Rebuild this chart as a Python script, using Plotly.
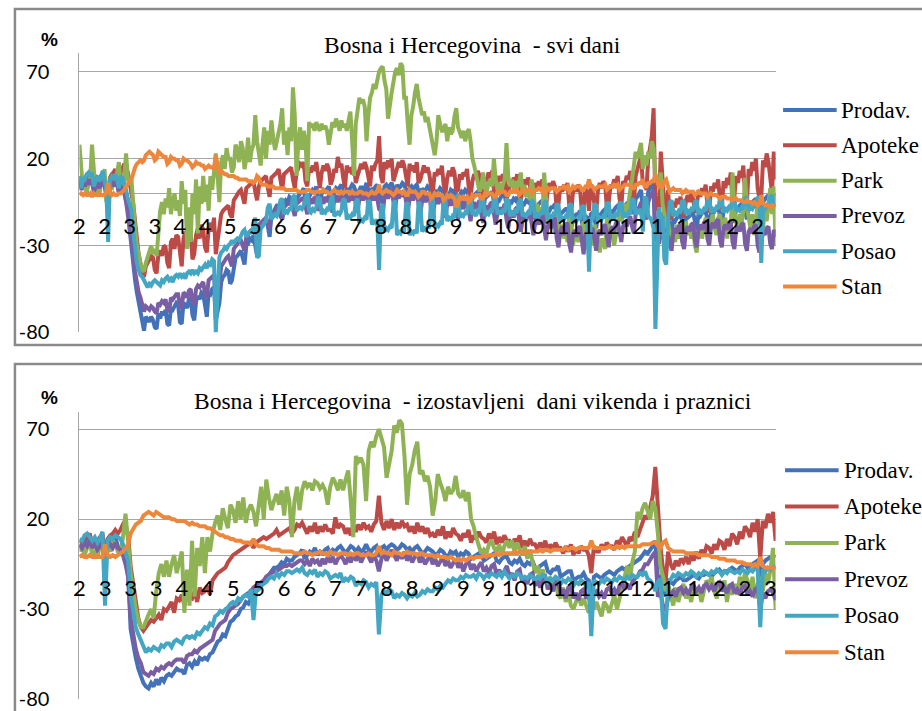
import datetime as dt
import plotly.graph_objects as go

# ---------------- data (daily, from 2020-02-15; rows = weeks Sat..Fri) ----------------
START_DATE = "2020-02-15"
SERIES = ["Prodav.", "Apoteke", "Park", "Prevoz", "Posao", "Stan"]
COLORS = ["#4472B8", "#BC4A46", "#8FB354", "#7A5EA3", "#43A6C3", "#EE873B"]

PRODAV = [
    8, 3, 6, 4, 7, 9, 10,
    10, 2, 5, 7, 3, 6, 9,
    6, 0, -2, 4, 7, 8, 10,
    7, 1, 5, 3, 1, -4, -9,
    -21, -32, -41, -50, -57, -63, -67,
    -75, -79, -71, -73, -74, -71, -73,
    -77, -78, -69, -72, -68, -70, -67,
    -75, -76, -66, -67, -65, -63, -64,
    -74, -75, -63, -64, -66, -61, -60,
    -70, -73, -62, -59, -61, -57, -58,
    -67, -71, -57, -58, -55, -54, -73,
    -67, -63, -51, -48, -47, -44, -45,
    -52, -50, -41, -37, -36, -34, -33,
    -37, -41, -30, -29, -26, -27, -24,
    -31, -36, -21, -20, -19, -16, -15,
    -19, -25, -12, -11, -9, -7, -7,
    -13, -15, -6, -4, -5, -2, -3,
    -9, -11, -3, -1, 0, 1, 3,
    -5, -9, -2, 0, 2, 1, 4,
    -4, -10, 0, 2, 1, 3, 4,
    -2, -7, 1, 3, 2, 4, 5,
    0, -6, 3, 1, 3, 5, 4,
    1, -5, 2, 4, 2, 3, 6,
    2, -3, 3, 2, 4, 5, -1,
    -4, -6, 4, 5, 3, 5, 6,
    3, -4, 5, 3, 4, 6, 5,
    2, -5, 3, 4, 2, 4, 5,
    1, -6, 3, 1, 2, 4, 3,
    0, -7, 2, 0, 1, 3, 2,
    -1, -8, 0, -1, 2, 1, 2,
    -3, -9, -1, 1, 0, 2, 1,
    -2, -10, -2, -1, 0, 1, 0,
    -4, -10, -3, -2, -1, 0, 1,
    -5, -12, -3, -4, -2, -1, -1,
    -6, -12, -4, -5, -3, -4, -2,
    -8, -14, -5, -6, -4, -5, -3,
    -9, -15, -7, -8, -6, -5, -4,
    -11, -17, -9, -10, -8, -8, -6,
    -13, -19, -12, -11, -10, -9, -9,
    -15, -21, -14, -13, -12, -12, -10,
    -16, -22, -13, -14, -26, -12, -11,
    -14, -20, -12, -13, -11, -10, -9,
    -12, -18, -10, -11, -9, -8, -7,
    -10, -16, -8, -7, -6, -5, -4,
    -6, -12, -3, -2, 0, 2, -9,
    -4, -11, 1, 3, 5, 8, -28,
    -14, -21, -13, -12, -15, -23, -14,
    -18, -23, -15, -16, -14, -13, -12,
    -17, -22, -14, -14, -13, -12, -11,
    -16, -21, -12, -13, -11, -11, -10,
    -15, -20, -11, -12, -10, -9, -8,
    -13, -18, -10, -9, -9, -8, -7,
    -12, -17, -8, -9, -7, -6, -5,
    -10, -15, -7, -6, -5, -4, -3,
    -9, -13, -16, -5, -3, -2, -1,
    -6, -11, -1, 0,
]

APOTEKE = [
    10, 4, 8, 7, 9, 10, 12,
    11, 3, 6, 9, 8, 10, 12,
    8, 2, 0, 9, 11, 12, 14,
    10, 4, 12, 14, 17, 15, 12,
    6, 1, -6, -16, -27, -35, -40,
    -45, -48, -42, -40, -38, -36, -37,
    -44, -46, -35, -33, -36, -30, -31,
    -40, -43, -28, -26, -32, -24, -25,
    -36, -42, -26, -22, -28, -21, -23,
    -38, -35, -24, -20, -26, -18, -21,
    -31, -34, -20, -17, -22, -14, -35,
    -28, -22, -12, -10, -9, -8, -7,
    -12, -14, -4, -2, 0, 1, 2,
    -3, -6, 3, 4, 5, 6, 7,
    1, -4, 4, 7, 8, 9, 10,
    3, -2, 9, 10, 11, 12, 14,
    6, 2, 11, 12, 13, 14, 15,
    8, 3, 12, 14, 17, 16, 18,
    7, 4, 15, 12, 16, 13, 18,
    9, 3, 12, 16, 13, 17, 14,
    5, 8, 14, 12, 21, 15, 17,
    9, 3, 16, 12, 15, 11, 17,
    6, 10, 13, 17, 14, 18, 15,
    8, 4, 16, 13, 17, 19, 33,
    10, 6, 18, 14, 19, 15, 20,
    7, 11, 14, 18, 15, 19, 16,
    9, 4, 17, 13, 16, 12, 18,
    6, 8, 13, 16, 12, 15, 11,
    4, 1, 12, 10, 14, 11, 16,
    5, 0, 9, 13, 10, 15, 12,
    1, 2, 11, 8, 12, 10, 14,
    3, -2, 7, 11, 9, 13, 10,
    -1, 1, 9, 7, 12, 9, 13,
    2, -3, 6, 10, 7, 11, 8,
    -3, 0, 8, 5, 9, 7, 11,
    -1, -5, 4, 8, 5, 9, 6,
    -5, -2, 6, 3, 7, 4, 8,
    -3, -8, 2, 6, 3, 7, 4,
    -9, -6, 4, 1, 5, 2, 6,
    -7, -12, 0, 4, 1, 5, 3,
    -11, -8, 3, 0, -10, 5, 2,
    -6, -11, 2, 6, 3, 7, 5,
    -9, -5, 5, 3, 8, 6, 10,
    -3, -8, 7, 5, 10, 8, 13,
    0, -5, 10, 14, 18, 22, 5,
    6, 2, 20, 26, 33, 49, -10,
    -2, -8, 24, 5, -8, -15, 2,
    -12, -15, -5, -8, -3, -6, -2,
    -10, -14, -4, -1, -5, 0, -3,
    -11, -8, 2, -2, 3, 0, 5,
    -7, -11, 4, 1, 6, 3, 8,
    -4, -9, 7, 3, 9, 5, 12,
    -6, -2, 10, 6, 13, 9, 16,
    -1, -5, 14, 10, 18, 13, 20,
    3, -3, -2, 19, 15, 23, 18,
    6, 0, 24, 8,
]

PARK = [
    28, 12, 2, 6, 0, 5, 8,
    28, 10, 0, 3, -2, 6, 4,
    14, -5, -3, 5, 2, 8, 6,
    12, 18, 2, 0, 10, 23, 8,
    5, 8, -10, -20, -30, -36, -40,
    -44, -45, -40, -36, -33, -30, -35,
    -32, -36, -20, -10, -5, -12, -3,
    -8, 3, -12, -5, 0, -10, -4,
    -13, 7, -6, 2, -32, -8, -28,
    0, -12, 8, -23, 4, -6, 10,
    -5, 5, -10, 10, 2, 12, 23,
    10, -5, 18, 22, 14, 26, 20,
    20, 12, 15, 28, 25, 18, 30,
    26, 14, 20, 32, 18, 25, 28,
    45, 30, 24, 16, 28, 38, 20,
    36, 28, 42, 32, 25, 30, 34,
    40, 49, 28, 36, 22, 38, 30,
    61, 45, 10, 30, 38, 25, 36,
    30, 7, 41, 38, 40, 36, 41,
    38, 36, 40, 37, 39, 36, 28,
    34, 41, 38, 43, 40, 36, 42,
    38, 40, 36, 42, 47, 30, 10,
    40, 48, 55, 52, 54, 50, 30,
    45, 55, 58, 63, 60, 66, 70,
    72, 73, 65, 60, 43, 52, 58,
    64, 70, 72, 68, 75, 73, 55,
    55, 40, 28, 45, 50, 58, 63,
    55, 49, 45, 47, 41, 44, 38,
    34, 28, 22, 30, 45, 40, 36,
    36, 40, 30, 38, 34, 36, 44,
    49, 38, 34, 32, 36, 30, 35,
    37, 30, 20, 16, 10, 6, 1,
    4, 12, 3, 1, 6, 8, 4,
    20, 8, 2, 6, 0, 5, 8,
    29, 10, 4, 8, 2, 7, 3,
    6, 12, 0, 5, -2, 3, -4,
    8, 2, -10, -6, -12, -8, -14,
    12, -2, -16, -12, -20, -15, -22,
    -8, -14, -24, -18, -26, -20, -28,
    -12, -18, -30, -25, -22, -28, -24,
    -20, -16, -28, -32, -22, -30, -26,
    -18, -24, -30, -34, -26, -28, -32,
    -14, -20, -26, -22, -30, -24, -18,
    -10, -16, -12, -6, -14, -4, 2,
    8, 18, 24, 20, 26, 29, 14,
    22, 16, 24, 20, 30, 26, 10,
    8, 4, 12, -6, -12, -20, -16,
    -24, -30, -22, -28, -18, -26, -20,
    -28, -22, -16, -24, -20, -26, -18,
    -30, -34, -22, -18, -26, -20, -14,
    -20, -26, -16, -12, -20, -24, -14,
    -12, -18, -20, -14, -26, -16, -22,
    12, -10, -16, -22, -12, -18, -10,
    9, -8, -14, -20, -12, -24, -16,
    -6, -18, -12, -20, -10, -16, -8,
    3, -12, 4, -30,
]

PREVOZ = [
    5, 2, 6, 4, 7, 5, 8,
    6, 1, 4, 6, 3, 5, 7,
    4, -1, 0, 5, 6, 4, 7,
    5, 0, 4, 3, 0, -5, -12,
    -20, -26, -35, -45, -52, -57, -60,
    -64, -68, -65, -66, -67, -65, -66,
    -68, -69, -63, -64, -62, -63, -61,
    -67, -68, -60, -61, -59, -58, -58,
    -65, -66, -57, -58, -60, -56, -55,
    -62, -64, -55, -53, -54, -52, -51,
    -58, -60, -50, -49, -48, -47, -62,
    -56, -52, -42, -40, -38, -37, -36,
    -40, -42, -32, -30, -29, -28, -27,
    -30, -33, -25, -23, -22, -21, -20,
    -24, -28, -18, -17, -16, -15, -14,
    -17, -20, -12, -11, -10, -9, -9,
    -12, -15, -8, -7, -6, -6, -5,
    -9, -13, -6, -5, -4, -3, -3,
    -8, -12, -5, -3, -6, -2, -4,
    -10, -7, -3, -6, -2, -5, -1,
    -6, -11, -4, -1, -5, -2, 0,
    -9, -5, -2, -5, -1, -4, 1,
    -6, -11, -3, 0, -4, -1, 2,
    -8, -4, -1, -4, 0, -3, -9,
    -10, -13, -2, 1, -3, 0, 3,
    -5, -9, 0, -3, 1, -2, 2,
    -7, -11, -3, 0, -4, -1, 1,
    -6, -12, -4, -1, -5, -2, 0,
    -9, -13, -5, -2, -6, -3, -1,
    -8, -14, -6, -3, -7, -4, -2,
    -11, -15, -7, -4, -9, -5, -3,
    -10, -16, -8, -5, -9, -6, -4,
    -12, -17, -9, -7, -10, -6, -5,
    -13, -18, -11, -8, -12, -9, -6,
    -15, -20, -12, -10, -14, -9, -8,
    -17, -22, -15, -12, -16, -11, -10,
    -19, -24, -17, -14, -18, -13, -12,
    -22, -27, -19, -16, -20, -15, -14,
    -26, -31, -22, -19, -24, -18, -17,
    -29, -34, -24, -21, -25, -20, -19,
    -30, -35, -24, -22, -32, -21, -20,
    -28, -33, -23, -21, -24, -19, -18,
    -26, -31, -21, -19, -22, -17, -16,
    -24, -28, -19, -16, -19, -15, -13,
    -19, -23, -12, -9, -8, -5, -16,
    -11, -15, -5, -2, 0, 2, -27,
    -22, -29, -23, -21, -28, -31, -24,
    -29, -33, -22, -20, -23, -19, -18,
    -28, -32, -21, -19, -22, -18, -17,
    -27, -31, -20, -18, -21, -17, -16,
    -26, -30, -19, -17, -20, -16, -15,
    -27, -31, -20, -18, -21, -17, -16,
    -28, -32, -21, -19, -22, -18, -17,
    -29, -33, -22, -20, -23, -19, -18,
    -30, -34, -30, -21, -24, -20, -19,
    -29, -32, -21, -25,
]

POSAO = [
    10, 3, 9, 8, 11, 12, 10,
    12, 4, 8, 10, 7, 9, 13,
    6, 2, -28, 8, 10, 9, 11,
    8, 3, 10, 9, 6, 2, -3,
    -6, -10, -22, -32, -40, -44, -47,
    -48, -50, -51, -54, -52, -53, -51,
    -50, -51, -52, -53, -50, -51, -49,
    -48, -50, -49, -51, -48, -47, -48,
    -46, -48, -47, -49, -46, -45, -46,
    -44, -46, -45, -46, -43, -44, -42,
    -41, -43, -40, -41, -38, -39, -80,
    -58, -37, -34, -33, -31, -32, -30,
    -29, -27, -29, -27, -26, -27, -24,
    -22, -21, -25, -23, -22, -23, -19,
    -14, -37, -36, -20, -19, -17, -16,
    -8, -6, -15, -13, -12, -13, -10,
    -4, -3, -12, -10, -11, -9, -9,
    -2, -1, -10, -9, -8, -9, -7,
    -3, 0, -10, -11, -9, -10, -8,
    -2, -3, -12, -10, -11, -9, -10,
    -4, -1, -13, -12, -11, -12, -10,
    -3, -4, -15, -13, -14, -12, -13,
    -5, -3, -17, -15, -16, -14, -15,
    -4, -5, -18, -16, -17, -15, -44,
    -10, -6, -22, -20, -21, -19, -20,
    -6, -4, -24, -22, -23, -21, -22,
    -7, -5, -24, -22, -23, -21, -23,
    -5, -6, -22, -20, -21, -19, -20,
    -4, -3, -20, -18, -19, -17, -18,
    -3, -4, -16, -14, -15, -13, -14,
    -2, -1, -14, -12, -13, -11, -12,
    -3, -2, -12, -11, -13, -10, -11,
    -2, -3, -13, -11, -12, -10, -11,
    -4, -2, -12, -10, -12, -9, -11,
    -3, -4, -13, -11, -12, -10, -11,
    -5, -3, -13, -12, -13, -11, -12,
    -4, -5, -14, -12, -13, -11, -12,
    -6, -4, -15, -13, -14, -12, -13,
    -6, -7, -16, -14, -15, -13, -14,
    -7, -6, -17, -15, -16, -14, -15,
    -8, -7, -17, -15, -45, -14, -15,
    -6, -7, -16, -14, -15, -13, -14,
    -5, -6, -15, -13, -14, -12, -13,
    -6, -5, -14, -12, -13, -11, -12,
    -3, -4, -12, -10, -11, -9, -22,
    -2, -3, -13, -14, -16, -20, -78,
    -32, -8, -15, -13, -38, -41, -16,
    -5, -4, -13, -11, -12, -10, -11,
    -4, -5, -12, -10, -11, -9, -10,
    -5, -4, -12, -10, -11, -9, -10,
    -4, -3, -11, -9, -10, -8, -9,
    -3, -4, -11, -9, -10, -8, -9,
    -4, -3, -10, -9, -10, -8, -9,
    -3, -2, -10, -8, -9, -7, -8,
    -2, -3, -40, -8, -9, -7, -8,
    -2, -1, -7, -6,
]

STAN = [
    -1, 0, -1, 0, -1, -1, 0,
    -2, 0, -1, -1, 0, -1, -1,
    -1, 1, 6, 0, -1, 0, -1,
    -1, 0, 0, 1, 2, 4, 6,
    7, 8, 12, 15, 17, 18, 19,
    18, 19, 22, 23, 24, 23, 22,
    19, 20, 24, 23, 22, 21, 21,
    17, 18, 21, 20, 20, 19, 19,
    16, 17, 20, 19, 19, 18, 17,
    15, 16, 18, 17, 17, 16, 16,
    14, 15, 16, 15, 15, 14, 22,
    16, 12, 13, 12, 11, 11, 10,
    10, 10, 10, 9, 9, 8, 8,
    8, 8, 8, 7, 7, 7, 6,
    7, 10, 9, 6, 5, 5, 5,
    4, 4, 4, 4, 3, 3, 3,
    3, 3, 3, 2, 2, 2, 2,
    2, 2, 2, 1, 1, 1, 1,
    1, 2, 2, 1, 1, 0, 1,
    1, 1, 1, 2, 1, 1, 0,
    0, 1, 2, 1, 1, 0, 1,
    0, 1, 1, 1, 0, 1, 0,
    0, 0, 1, 1, 0, 0, 0,
    -1, 0, 1, 0, 0, 1, 5,
    1, 0, 1, 2, 1, 1, 0,
    -1, 0, 2, 1, 1, 0, 1,
    -1, -1, 2, 1, 1, 1, 0,
    -2, -1, 1, 1, 0, 0, 0,
    -3, -2, 0, -1, 0, -1, -1,
    -4, -3, -1, -2, -1, -2, -3,
    -8, -6, -2, -3, -2, -3, -2,
    -5, -4, -1, -2, -1, -1, -1,
    -3, -3, 0, -1, 0, 0, 0,
    -2, -2, 1, 0, 1, 1, 1,
    -1, -1, 1, 1, 2, 1, 2,
    -1, 0, 2, 1, 2, 2, 2,
    0, 1, 2, 2, 3, 2, 3,
    0, 1, 3, 2, 3, 3, 3,
    1, 2, 3, 3, 4, 3, 4,
    1, 2, 4, 3, 4, 4, 4,
    2, 2, 4, 4, 8, 4, 4,
    2, 3, 4, 4, 4, 4, 5,
    2, 3, 4, 4, 5, 4, 5,
    2, 3, 4, 5, 5, 5, 5,
    3, 3, 5, 5, 6, 6, 8,
    4, 4, 6, 6, 7, 7, 11,
    7, 4, 5, 4, 7, 8, 4,
    1, 2, 3, 2, 2, 2, 2,
    0, 1, 2, 1, 1, 1, 1,
    -1, 0, 1, 0, 0, 0, 0,
    -2, -1, 0, -1, -1, -1, -2,
    -3, -2, -2, -2, -3, -3, -3,
    -4, -3, -3, -4, -4, -4, -5,
    -5, -4, -5, -5, -6, -5, -6,
    -7, -6, -1, -6, -7, -7, -7,
    -8, -7, -7, -8,
]

HOLIDAYS = ["2020-04-13", "2020-05-01", "2020-12-25", "2021-01-01"]

TOP_TICK_LABELS = ["2", "2", "3", "3", "4", "4", "5", "5", "6", "6", "7", "7", "8", "8",
                   "8", "9", "9", "10", "10", "11", "11", "12", "12", "1", "1", "1", "2", "2"]
BOTTOM_TICK_LABELS = ["2", "3", "3", "3", "4", "4", "5", "5", "6", "6", "7", "7", "8", "8",
                      "9", "9", "9", "10", "10", "11", "11", "12", "12", "1", "1", "2", "2", "3"]
TOP_TICK_STEP = 14
BOTTOM_TICK_STEP = 10

TOP_TITLE = "Bosna i Hercegovina  - svi dani"
BOTTOM_TITLE = "Bosna i Hercegovina  - izostavljeni  dani vikenda i praznici"
Y_TICKS = [-80, -30, 20, 70]
Y_TICK_TEXT = ["-80", "-30", "20", "70"]

# ---------------- build ----------------
ALL = [PRODAV, APOTEKE, PARK, PREVOZ, POSAO, STAN]
n = len(PRODAV)
for s in ALL:
    assert len(s) == n, (len(s), n)

start = dt.date.fromisoformat(START_DATE)
dates = [start + dt.timedelta(days=k) for k in range(n)]
hol = {dt.date.fromisoformat(d) for d in HOLIDAYS}
keep = [k for k, d in enumerate(dates) if d.weekday() < 5 and d not in hol]
m = len(keep)

# Page is rendered without body margin; the photographed picture comes out
# vertically squeezed by ~1.6 %, so vertical positions are pre-stretched.
SY = 0.9845
W, H = 922, 723
def px(x):          # target picture pixel -> paper fraction
    return x / W
def py(y):
    return 1 - (y / SY) / H

GRID = "#a6a6a6"
TICKFONT_X = dict(family="Lato, Carlito, Arial", size=22, color="#000000")
TICKFONT_Y = dict(family="Lato, Carlito, Arial", size=20, color="#000000")
SERIF = "Liberation Serif, Times New Roman, serif"
LW = 4

fig = go.Figure()
for name, color, vals in zip(SERIES, COLORS, ALL):
    fig.add_trace(go.Scatter(x=list(range(n)), y=vals, name=name, mode="lines",
                             line=dict(color=color, width=LW),
                             xaxis="x", yaxis="y", showlegend=False, hoverinfo="skip"))
for name, color, vals in zip(SERIES, COLORS, ALL):
    fig.add_trace(go.Scatter(x=list(range(m)), y=[vals[k] for k in keep], name=name,
                             mode="lines", line=dict(color=color, width=LW),
                             xaxis="x2", yaxis="y2", showlegend=False, hoverinfo="skip"))

xdom = [px(74), px(775.5)]

def xaxis_cfg(rng, tickvals, ticktext, pos):
    # category labels sit just under the zero line, drawn over the series (as in Excel)
    return dict(domain=xdom, range=rng, anchor="free", position=pos,
                showline=False, showgrid=False, zeroline=False,
                tickmode="array", tickvals=tickvals, ticktext=ticktext,
                ticks="outside", ticklen=13, tickcolor="rgba(0,0,0,0)",
                tickfont=TICKFONT_X, tickangle=0, layer="above traces", fixedrange=True)

def yaxis_cfg(dom, rng, anchor):
    return dict(domain=dom, range=rng, anchor=anchor, tickmode="array", tickvals=Y_TICKS,
                ticktext=Y_TICK_TEXT,
                showgrid=True, gridcolor=GRID, gridwidth=1, showline=True, linecolor=GRID,
                linewidth=1, zeroline=True, zerolinecolor=GRID, zerolinewidth=1,
                ticks="outside", ticklen=25,
                tickcolor="rgba(0,0,0,0)", tickfont=TICKFONT_Y, layer="below traces",
                fixedrange=True)

top_ticks = [i * TOP_TICK_STEP for i in range(len(TOP_TICK_LABELS))]
bot_ticks = [i * BOTTOM_TICK_STEP for i in range(len(BOTTOM_TICK_LABELS))]

shapes = [
    dict(type="rect", xref="paper", yref="paper", x0=px(9), x1=px(945), y0=py(345), y1=py(9),
         line=dict(color="#8a8a8a", width=2.5), fillcolor="rgba(0,0,0,0)", layer="below"),
    dict(type="rect", xref="paper", yref="paper", x0=px(9), x1=px(945), y0=-0.05, y1=py(364),
         line=dict(color="#8a8a8a", width=2.5), fillcolor="rgba(0,0,0,0)", layer="below"),
]
annotations = [
    dict(text=TOP_TITLE, x=px(470.5), y=py(45), xref="paper", yref="paper", showarrow=False,
         xanchor="center", yanchor="middle", font=dict(family=SERIF, size=23.5, color="#000")),
    dict(text=BOTTOM_TITLE, x=px(470.5), y=py(401), xref="paper", yref="paper", showarrow=False,
         xanchor="center", yanchor="middle", font=dict(family=SERIF, size=23.5, color="#000")),
    dict(text="<b>%</b>", x=px(44), y=py(39), xref="paper", yref="paper", showarrow=False,
         xanchor="center", yanchor="middle",
         font=dict(family="Liberation Sans, Arial", size=19, color="#000")),
    dict(text="<b>%</b>", x=px(44), y=py(397), xref="paper", yref="paper", showarrow=False,
         xanchor="center", yanchor="middle",
         font=dict(family="Liberation Sans, Arial", size=19, color="#000")),
]

# legends (one per panel)
for k, (name, color) in enumerate(zip(SERIES, COLORS)):
    yt = 110 + 35.3 * k
    shapes.append(dict(type="line", xref="paper", yref="paper", x0=px(783), x1=px(837),
                       y0=py(yt), y1=py(yt), line=dict(color=color, width=4)))
    annotations.append(dict(text=name, x=px(839), y=py(yt), xref="paper", yref="paper",
                            showarrow=False, xanchor="left", yanchor="middle",
                            font=dict(family=SERIF, size=23, color="#000")))
    yb = 470 + 36.4 * k
    shapes.append(dict(type="line", xref="paper", yref="paper", x0=px(785), x1=px(839),
                       y0=py(yb), y1=py(yb), line=dict(color=color, width=4)))
    annotations.append(dict(text=name, x=px(842), y=py(yb), xref="paper", yref="paper",
                            showarrow=False, xanchor="left", yanchor="middle",
                            font=dict(family=SERIF, size=23, color="#000")))

fig.update_layout(
    width=W, height=H, autosize=False,
    margin=dict(l=0, r=0, t=0, b=0),
    paper_bgcolor="#ffffff", plot_bgcolor="rgba(0,0,0,0)",
    showlegend=False,
    xaxis=xaxis_cfg([0, n - 1], top_ticks, TOP_TICK_LABELS, py(193.3)),
    yaxis=yaxis_cfg([py(332.3), py(53.3)], [-80, 80.6], "x"),
    xaxis2=xaxis_cfg([0, m - 1], bot_ticks, BOTTOM_TICK_LABELS, py(555)),
    yaxis2=yaxis_cfg([py(699), py(411.7)], [-80, 79.6], "x2"),
    shapes=shapes, annotations=annotations,
)

fig.write_html(
    "out.html",
    config={"displayModeBar": False},
    post_script=("document.body.style.margin='0px';"
                 "document.documentElement.style.overflow='hidden';"
                 "document.body.style.overflow='hidden';"),
)
